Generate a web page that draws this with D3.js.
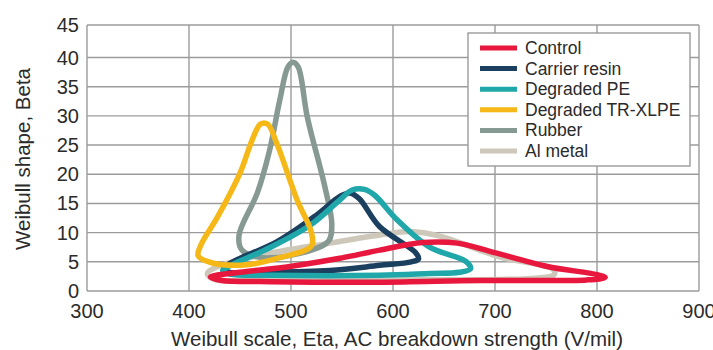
<!DOCTYPE html>
<html>
<head>
<meta charset="utf-8">
<script src="https://cdn.jsdelivr.net/npm/d3@7"></script>
<style>
  body { margin: 0; background: #fff; }
  svg text { font-family: "Liberation Sans", Arial, sans-serif; fill: #2b2b2b; }
</style>
</head>
<body>
<svg id="chart" width="713" height="350"></svg>
<script>
// series names and colours
let seriesNames = ["Control", "Carrier resin", "Degraded PE", "Degraded TR-XLPE", "Rubber", "Al metal"];
let seriesColors = ["#e8173d", "#1b3f5e", "#1fa7aa", "#f6b817", "#879993", "#cdc8b9"];

let xTicks = [300, 400, 500, 600, 700, 800, 900];
let yTicks = [0, 5, 10, 15, 20, 25, 30, 35, 40, 45];

// contour outlines, [eta, beta]
let control = [[421, 2.4], [450, 3.2], [499, 4.2], [548, 5.6], [587, 7.0], [629, 8.3], [663, 8.2],
    [695, 6.8], [751, 4.2], [800, 2.8], [808, 2.3], [790, 1.9], [685, 1.8], [587, 1.5], [480, 1.6], [432, 1.8]];
let carrierResin = [[434, 3.8], [443, 5.0], [486, 8.4], [525, 13.0], [548, 16.2], [558, 16.8], [567, 15.8],
    [587, 11.0], [622, 6.6], [625, 5.5], [618, 5.0], [587, 4.4], [538, 3.5], [470, 3.2], [440, 3.2]];
let degradedPE = [[433, 3.5], [440, 4.3], [479, 7.4], [519, 11.3], [546, 15.3], [560, 17.3], [572, 17.4], [582, 16.4],
    [604, 12.2], [636, 7.5], [672, 5.0], [676, 3.8], [665, 3.2], [636, 3.0], [587, 2.7], [480, 2.7], [440, 2.9]];
let degradedTRXLPE = [[470, 28.6], [477, 28.6], [486, 25.3], [506, 15.6], [520, 10.0], [520, 7.7],
    [489, 5.7], [457, 4.5], [423, 4.8], [409, 6.0], [412, 8.0], [428, 12.7], [450, 20.2], [462, 25.9]];
let rubber = [[497, 38.4], [502, 39.2], [507, 38.4], [516, 29.8], [533, 18.0], [540, 11.5], [537, 8.6],
    [520, 7.0], [473, 5.7], [452, 7.0], [449, 9.5], [467, 16.8], [479, 24.1], [489, 32.7]];
let alMetal = [[418, 3.0], [430, 4.3], [472, 6.2], [538, 8.2], [587, 9.6], [617, 10.2], [646, 9.4],
    [705, 5.8], [757, 3.7], [758, 2.8], [740, 2.2], [600, 1.9], [470, 1.8], [425, 2.0]];

let seriesData = [control, carrierResin, degradedPE, degradedTRXLPE, rubber, alMetal];
let drawOrder = [5, 4, 1, 2, 0, 3];

let svg = d3.select("#chart");
let margin = {left: 87, right: 14, top: 25, bottom: 59};
let plotRight = 713 - margin.right;
let plotBottom = 350 - margin.bottom;

let x = d3.scaleLinear().domain([300, 900]).range([margin.left, plotRight]);
let y = d3.scaleLinear().domain([0, 40, 45]).range([plotBottom, 57.5, margin.top]);

// grid
let grid = svg.append("g").attr("class", "grid");
grid.selectAll("line.gx").data(xTicks).enter().append("line")
    .attr("class", "gx")
    .attr("x1", d => x(d)).attr("x2", d => x(d))
    .attr("y1", y(0)).attr("y2", y(45))
    .attr("stroke", "#9b9b9b").attr("stroke-width", 1.4);
grid.selectAll("line.gy").data(yTicks).enter().append("line")
    .attr("class", "gy")
    .attr("x1", x(300)).attr("x2", x(900))
    .attr("y1", d => y(d)).attr("y2", d => y(d))
    .attr("stroke", "#9b9b9b").attr("stroke-width", 1.4);

// tick labels
svg.append("g").selectAll("text").data(xTicks).enter().append("text")
    .attr("x", d => x(d)).attr("y", plotBottom + 27)
    .attr("text-anchor", "middle")
    .style("font-size", "20px")
    .text(d => d);
svg.append("g").selectAll("text").data(yTicks).enter().append("text")
    .attr("x", margin.left - 8).attr("y", d => y(d) + 7)
    .attr("text-anchor", "end")
    .style("font-size", "20px")
    .text(d => d);

// axis titles
svg.append("text")
    .attr("x", 397).attr("y", 346)
    .attr("text-anchor", "middle")
    .style("font-size", "20.5px")
    .text("Weibull scale, Eta, AC breakdown strength (V/mil)");
svg.append("text")
    .attr("transform", "translate(30,159) rotate(-90)")
    .attr("text-anchor", "middle")
    .style("font-size", "20.5px")
    .text("Weibull shape, Beta");

// contours
let line = d3.line()
    .x(d => x(d[0]))
    .y(d => y(d[1]))
    .curve(d3.curveCatmullRomClosed.alpha(0.5));

svg.append("g").selectAll("path").data(drawOrder).enter().append("path")
    .attr("d", i => line(seriesData[i]))
    .attr("fill", "none")
    .attr("stroke", i => seriesColors[i])
    .attr("stroke-width", 5.5)
    .attr("stroke-linejoin", "round");

// legend
let lg = svg.append("g").attr("transform", "translate(468,33)");
lg.append("rect")
    .attr("width", 222).attr("height", 133)
    .attr("fill", "#fff").attr("stroke", "#9b9b9b").attr("stroke-width", 1.4);
let rows = lg.selectAll("g.row").data(seriesNames).enter().append("g")
    .attr("class", "row")
    .attr("transform", (d, i) => `translate(0,${15 + i * 20.6})`);
rows.append("line")
    .attr("x1", 12).attr("x2", 49)
    .attr("stroke", (d, i) => seriesColors[i]).attr("stroke-width", 5);
rows.append("text")
    .attr("x", 57).attr("y", 6)
    .style("font-size", "17.5px")
    .text(d => d);
</script>
</body>
</html>
